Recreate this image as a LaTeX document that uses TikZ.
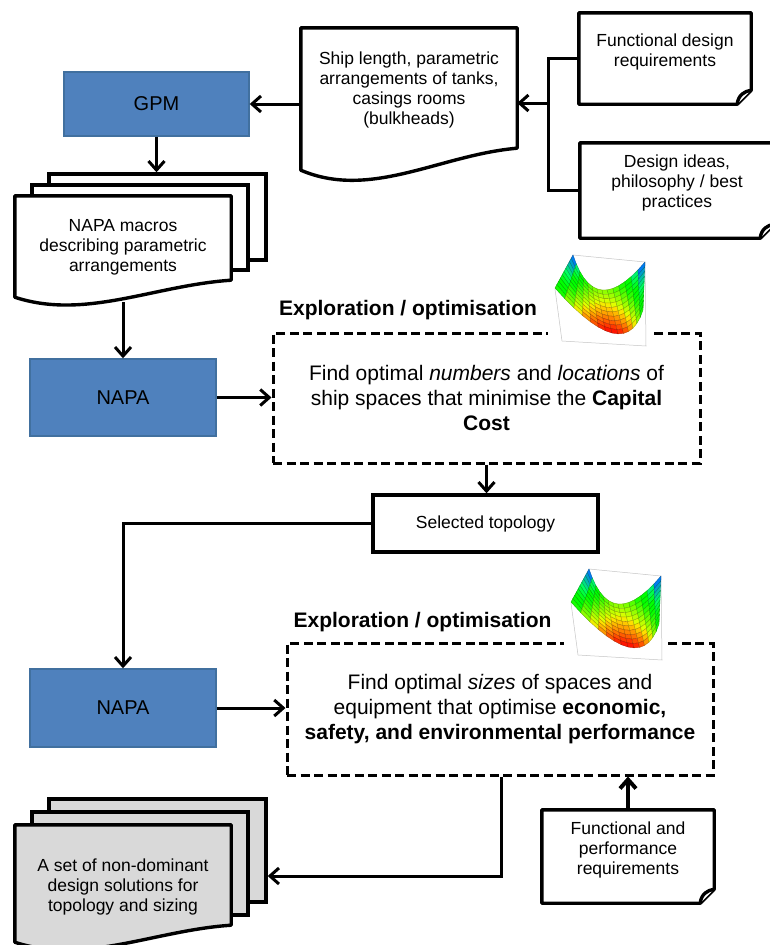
\documentclass[tikz,border=0pt]{standalone}
\usepackage{fontspec}
\setmainfont{Liberation Sans}
\usetikzlibrary{arrows.meta, backgrounds}
\definecolor{bluebox}{HTML}{4F81BD}
\definecolor{blueedge}{HTML}{41709F}
\definecolor{pagegray}{HTML}{D9D9D9}
\tikzstyle{tool} = [rectangle, minimum width=186pt, minimum height=77pt, text centered, draw=blueedge, line width=1.4pt, fill=bluebox, font=\fontsize{20}{24}\selectfont]
\tikzstyle{page} = [rectangle, minimum width=216pt, align=center]
\tikzstyle{sheet} = [rectangle, draw=black, line width=3.4pt, fill=white, minimum width=217pt]
\tikzstyle{pageline} = [draw=black, line width=3.4pt, fill=white, line join=round]
\tikzstyle{search} = [rectangle, draw=black, line width=3pt, dash pattern=on 9pt off 4.5pt, align=center, font=\fontsize{21}{25}\selectfont]
\tikzstyle{heading} = [font=\bfseries\fontsize{21}{25}\selectfont]
\tikzstyle{result} = [rectangle, draw=black, line width=3.4pt, minimum width=225pt, minimum height=57pt, text centered]
\tikzstyle{plotframe} = [draw=gray!45, line width=0.5pt]
\tikzstyle{link} = [line width=3pt]
\tikzstyle{edge} = [link, ->, >={Straight Barb[length=9pt,width=16pt]}]

% page with a wavy lower edge: node, drop at the right end, drop at the left end
\newcommand{\docpage}[4][]{%
  \draw[pageline,#1] (#2.north west) -- (#2.north east) -- ([yshift={-(#3)}]#2.south east)
    .. controls +(-77,{0.3*((#4)-(#3))}) and +(70,{1.36*((#4)-(#3))}) .. ([yshift={-(#4)}]#2.south west) -- cycle;
}
% note with a folded corner: node, extra drop of the lower edge
\newcommand{\notepage}[2]{%
  \draw[pageline] (#1.north west) -- (#1.north east) -- ([yshift={14-(#2)}]#1.south east)
    -- ([xshift=-14, yshift={-(#2)}]#1.south east) -- ([yshift={-(#2)}]#1.south west) -- cycle;
  \draw[pageline] ([xshift=-14, yshift={-(#2)}]#1.south east) .. controls +(1,-9) and +(-7,1) .. ([yshift={14-(#2)}]#1.south east);
}
% small cost surface
\newcommand{\surfaceplot}{%
  \fill[white] (548,252) rectangle (652,356);
  \draw[plotframe] (555,289) -- (573,255) -- (645,262) -- (646,346) -- (562,341) -- cycle;
  \foreach \i in {0,...,13} {
    \foreach \j in {9,...,0} {
      \pgfmathsetmacro\ua{-1+\i/7}
      \pgfmathsetmacro\ub{-1+(\i+1)/7}
      \pgfmathsetmacro\va{\j/10}
      \pgfmathsetmacro\vb{(\j+1)/10}
      \pgfmathsetmacro\um{(\ua+\ub)/2}
      \pgfmathsetmacro\hgt{0.6*\um*\um+0.4*(\va+\vb)/2}
      \pgfmathsetmacro\colr{min(1,max(0,1.8-3.2*\hgt))}
      \pgfmathsetmacro\colg{min(1,max(0,3.5*\hgt),max(0,3.2*(1.05-\hgt)))}
      \pgfmathsetmacro\colb{min(1,max(0,3.5*\hgt-2.2))}
      \definecolor{cell}{rgb}{\colr,\colg,\colb}
      \filldraw[fill=cell, draw=cell!65!black, line width=0.3pt]
        ({px(\ua,\va)},{py(\ua,\va)}) -- ({px(\ub,\va)},{py(\ub,\va)})
        -- ({px(\ub,\vb)},{py(\ub,\vb)}) -- ({px(\ua,\vb)},{py(\ua,\vb)}) -- cycle;
    }
  }
}

\begin{document}
\begin{tikzpicture}[x=1pt, y=-1pt, font=\fontsize{17.5}{20}\selectfont,
  declare function={px(\u,\v)=(1-(\v))*(612+44*(\u)-13*(\u)*(\u))+(\v)*(602+36*(\u)+7*(\u)*(\u));
                    py(\u,\v)=(1-(\v))*(333+11*(\u)-34*(\u)*(\u))+(\v)*(290+3.5*(\u)-31.5*(\u)*(\u));}]
\useasboundingbox (0,0) rectangle (769,945);

\node (0) [tool, minimum width=185pt, minimum height=64pt] at (156.5,104) {GPM};
\node (1) [page, minimum height=124pt] at (409,90) {Ship length, parametric\\arrangements of tanks,\\casings rooms\\(bulkheads)};
\node (2) [page, minimum width=172pt, minimum height=78pt] at (665,52) {Functional design\\requirements};
\node (3) [page, minimum width=194pt, minimum height=80pt] at (677,183) {Design ideas,\\philosophy / best\\practices};
\node (6) [page, minimum height=102pt] at (123,247) {NAPA macros\\describing parametric\\arrangements};
\node (7) [tool] at (123,397.5) {NAPA};
\node (16) [heading] at (408,310) {Exploration / optimisation};
\node (8) [search, minimum width=427pt, minimum height=130pt] at (486.5,398)
  {Find optimal \textit{numbers} and \textit{locations} of\\ship spaces that minimise the \textbf{Capital}\\\textbf{Cost}};
\node (9) [result] at (485.5,523.5) {Selected topology};
\node (10) [tool, minimum height=78pt] at (123,708) {NAPA};
\node (17) [heading] at (422.5,622) {Exploration / optimisation};
\node (11) [search, minimum width=426pt, minimum height=132pt] at (500,709)
  {Find optimal \textit{sizes} of spaces and\\equipment that optimise \textbf{economic,}\\\textbf{safety, and environmental performance}};
\node (14) [page, minimum height=124pt] at (123,887) {A set of non-dominant\\design solutions for\\topology and sizing};
\node (15) [page, minimum width=172pt, minimum height=80pt] at (628,850) {Functional and\\performance\\requirements};

\begin{pgfonlayer}{background}
\docpage{1}{-4}{18}
\notepage{2}{13}
\notepage{3}{15}
\node (4) [sheet, minimum height=86pt] at (157.5,217) {};
\node (5) [sheet, minimum width=216pt, minimum height=85pt] at (140,227.5) {};
\docpage{6}{-18}{-1}
\node (12) [sheet, fill=pagegray, minimum height=103pt] at (157.5,850.5) {};
\node (13) [sheet, fill=pagegray, minimum width=216pt, minimum height=103pt] at (140,863.5) {};
\docpage[fill=pagegray]{14}{-24}{-7}
\notepage{15}{13}
\end{pgfonlayer}

\surfaceplot
\begin{scope}[shift={(16,314)}]
\surfaceplot
\end{scope}

\coordinate (j) at (548,103);
\coordinate (k) at (501,876);
\draw [edge] (0.east -| 1.west) -- (0.east);
\draw [link] ([yshift=-6.5]2.west) -| (j) |- ([yshift=-7.5]3.west);
\draw [edge] (j) -- (j -| 1.east);
\draw [edge] (0.south) -- (0.south |- 4.north);
\draw [edge] ([yshift=-4]6.south) -- (7.north);
\draw [edge] (7.east) -- (7.east -| 8.west);
\draw [edge] (8.south) -- (8.south |- 9.north);
\draw [edge] (9.west) -| (10.north);
\draw [edge] (10.east) -- (10.east -| 11.west);
\draw [edge] (k |- 11.south) -- (k) -- (k -| 12.east);
\draw [edge, line width=4pt] (15.north) -- (15.north |- 11.south);

\end{tikzpicture}
\end{document}
